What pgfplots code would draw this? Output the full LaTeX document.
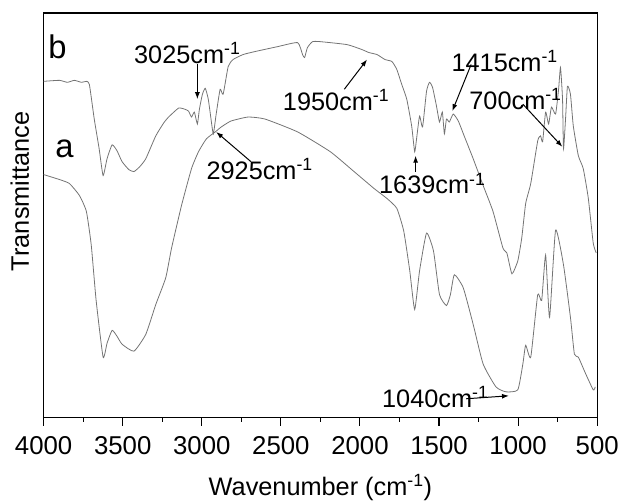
\documentclass[border=0pt]{standalone}
\usepackage{pgfplots}
\pgfplotsset{compat=1.18}
\usepackage{fontspec}
\setmainfont{Liberation Sans}
\usetikzlibrary{arrows.meta}
\begin{document}
\begin{tikzpicture}
\begin{axis}[
  at={(0,0)}, anchor=south west,
  width=558pt, height=408pt, scale only axis,
  xmin=500, xmax=4000, x dir=reverse,
  ymin=0, ymax=408,
  xtick={500,1000,...,4000}, minor x tick num=1,
  ytick=\empty,
  xtick pos=left, tick align=outside,
  major tick length=8pt, minor tick length=4pt,
  axis line style={line width=1.3pt},
  every tick/.style={black, line width=1.1pt},
  /pgf/number format/assume math mode=true,
  /pgf/number format/1000 sep={},
  ticklabel style={font=\fontsize{26}{30}\selectfont},
  xticklabel style={yshift=-7pt},
  label style={font=\fontsize{25.5}{30}\selectfont},
  xlabel={Wavenumber (cm\textsuperscript{-1})},
  ylabel={Transmittance},
  xlabel style={at={(axis description cs:0.5,-0.172)}, anchor=center},
  ylabel style={at={(axis description cs:-0.043,0.559)}, anchor=center},
  clip=false,
]
\addplot[color=black!55, line width=0.8pt, smooth, tension=0.3] coordinates {
(4000,339)(3900,340)(3850,338)(3806,340)(3760,338)(3730,339)(3711,336)(3680,301)(3649,271)(3624,244)(3599,261)(3567,275)(3536,269)(3504,258)(3461,250)(3429,248)(3392,253)(3354,261)(3291,284)(3241,297)(3210,303)(3147,312)(3109,311)(3084,309)(3065,303)(3047,308)(3028,296)(3015,311)(2996,326)(2978,332)(2959,321)(2940,299)(2927,286)(2909,306)(2884,331)(2865,326)(2833,354)(2802,361)(2739,366)(2664,369)(2520,374)(2394,378)(2363,366)(2350,363)(2332,373)(2300,379)(2250,379)(2081,376)(1987,371)(1943,368)(1892,366)(1842,361)(1798,359)(1767,351)(1736,336)(1704,321)(1673,294)(1654,268)(1642,281)(1623,304)(1604,293)(1579,329)(1560,338)(1541,333)(1516,314)(1497,298)(1479,308)(1466,286)(1453,301)(1435,298)(1410,306)(1378,299)(1341,284)(1284,261)(1221,234)(1159,208)(1096,171)(1071,166)(1039,145)(1002,158)(977,181)(952,216)(920,236)(876,279)(858,284)(845,278)(826,308)(807,296)(789,313)(763,306)(744,331)(732,353)(719,321)(713,271)(700,301)(688,334)(669,326)(651,294)(619,264)(588,251)(556,221)(525,176)(506,166)
};
\addplot[color=black!55, line width=0.8pt, smooth, tension=0.3] coordinates {
(4000,245)(3900,240)(3837,236)(3774,224)(3730,208)(3699,174)(3668,118)(3624,61)(3599,75)(3567,88)(3536,82)(3504,74)(3429,67)(3354,84)(3291,114)(3228,141)(3191,171)(3128,214)(3065,251)(3021,268)(2971,281)(2915,288)(2877,293)(2815,299)(2708,303)(2601,301)(2394,288)(2187,268)(2037,248)(1911,231)(1830,221)(1767,211)(1723,188)(1685,148)(1654,109)(1623,148)(1579,186)(1535,168)(1497,124)(1453,113)(1428,124)(1403,144)(1347,131)(1284,94)(1221,54)(1140,31)(1077,26)(1002,28)(970,54)(952,73)(920,61)(876,124)(851,118)(826,164)(801,101)(763,189)(713,154)(669,101)(644,64)(619,61)(575,45)(525,28)(512,31)
};
% labels
\node[font=\fontsize{33}{38}\selectfont] at (axis cs:3912,374) {b};
\node[font=\fontsize{33}{38}\selectfont] at (axis cs:3868,271) {a};
\tikzset{ann/.style={anchor=west, inner sep=0pt, font=\fontsize{25.5}{30}\selectfont},
         arr/.style={-{Latex[length=7pt,width=5pt]}, black, line width=1pt}}
\node[ann] at (axis cs:3429,368) {3025cm\textsuperscript{-1}};
\draw[arr] (axis cs:3028,356) -- (axis cs:3028,321);
\node[ann] at (axis cs:2971,251) {2925cm\textsuperscript{-1}};
\draw[arr] (axis cs:2689,258) -- (axis cs:2909,288);
\node[ann] at (axis cs:2488,320) {1950cm\textsuperscript{-1}};
\draw[arr] (axis cs:2099,331) -- (axis cs:1955,361);
\node[ann] at (axis cs:1422,359) {1415cm\textsuperscript{-1}};
\draw[arr] (axis cs:1297,356) -- (axis cs:1416,309);
\node[ann] at (axis cs:1309,321) {700cm\textsuperscript{-1}};
\draw[arr] (axis cs:970,316) -- (axis cs:720,273);
\node[ann] at (axis cs:1880,236) {1639cm\textsuperscript{-1}};
\draw[arr] (axis cs:1648,248) -- (axis cs:1648,264);
\node[ann] at (axis cs:1861,21) {1040cm\textsuperscript{-1}};
\draw[arr] (axis cs:1328,19) -- (axis cs:1058,22);
\end{axis}
\path[use as bounding box] (-44pt,-85pt) rectangle (578pt,421pt);
\end{tikzpicture}
\end{document}
